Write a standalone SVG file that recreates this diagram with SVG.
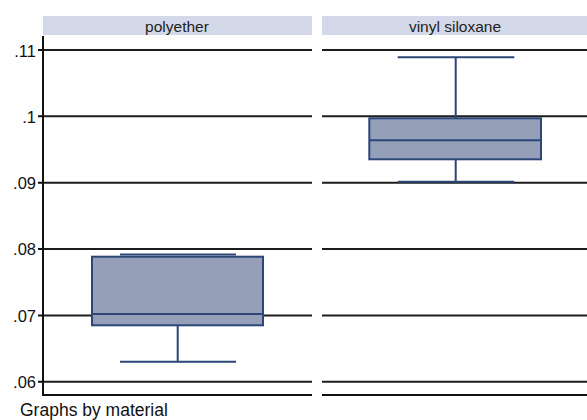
<svg xmlns="http://www.w3.org/2000/svg" width="587" height="420" viewBox="0 0 587 420">
<style>
.grid{stroke:#1c1c1c;stroke-width:2;fill:none}
.axis{stroke:#111;stroke-width:2;fill:none}
.strip{fill:#d3d9e8}
.strip-text{font-family:"Liberation Sans",Arial,sans-serif;font-size:15.5px;fill:#222;text-anchor:middle}
.tick{font-family:"Liberation Sans",Arial,sans-serif;font-size:16.5px;fill:#111;text-anchor:end}
.box{fill:#959fb8;stroke:#2c4678;stroke-width:2}
.wh{stroke:#2c4678;stroke-width:2;fill:none}
.note{font-family:"Liberation Sans",Arial,sans-serif;font-size:17.5px;fill:#111}
</style>
<rect width="587" height="420" fill="#fff"/>
<g id="panel-polyether">
<rect class="strip" x="43" y="16" width="269" height="19"/>
<text class="strip-text" x="177" y="31.5">polyether</text>
<path class="grid" d="M43 50H312M43 116.3H312M43 182.7H312M43 249H312M43 315.4H312M43 381.8H312"/>
</g>
<g id="panel-vinyl">
<rect class="strip" x="322" y="16" width="265" height="19"/>
<text class="strip-text" x="455" y="31.5">vinyl siloxane</text>
<path class="grid" d="M322 50H587M322 116.3H587M322 182.7H587M322 249H587M322 315.4H587M322 381.8H587"/>
</g>
<g id="axes">
<path class="axis" d="M43 36V395H312M322 395H587"/>
<path class="axis" d="M38 50H43M38 116.3H43M38 182.7H43M38 249H43M38 315.4H43M38 381.8H43"/>
<text class="tick" x="36" y="56.5">.11</text>
<text class="tick" x="36" y="122.5">.1</text>
<text class="tick" x="36" y="189">.09</text>
<text class="tick" x="36" y="255">.08</text>
<text class="tick" x="36" y="321.5">.07</text>
<text class="tick" x="36" y="388">.06</text>
</g>
<g id="box-polyether">
<path class="wh" d="M177.7 325.3V361.7M120 361.7H236M120 254.5H236"/>
<rect class="box" x="92" y="256.7" width="171" height="68.6"/>
<path class="wh" d="M92 314H263"/>
</g>
<g id="box-vinyl">
<path class="wh" d="M455.7 57.3V118.3M455.7 159.3V181.7M397.7 57.3H514.3M397.7 181.7H514.3"/>
<rect class="box" x="369.3" y="118.3" width="171.7" height="41"/>
<path class="wh" d="M369.3 140.3H541"/>
</g>
<text class="note" x="20" y="415.5">Graphs by material</text>
</svg>
